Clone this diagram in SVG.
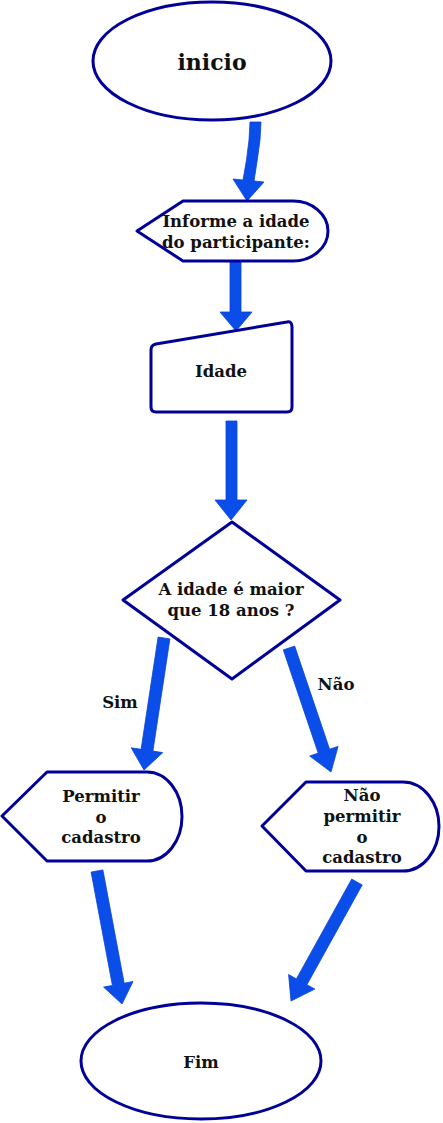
<svg xmlns="http://www.w3.org/2000/svg" width="443" height="1123" viewBox="0 0 443 1123">
<style>
.s{fill:#fff;stroke:#000099;stroke-width:3;stroke-linejoin:round}
.t{font-family:"DejaVu Serif","Liberation Serif",serif;font-weight:bold;font-size:16.5px;fill:#111;text-anchor:middle}
.a{fill:#0a4de8;stroke:#0845d8;stroke-width:0.8;stroke-linejoin:miter}
</style>
<rect width="443" height="1123" fill="#fff"/>
<g id="connectors">
<path class="a" d="M250,122 L261,122 L260,140 Q257,163 254,181 L264,182 L247,201 L233,179 L243,180 Q247,160 249,140 Z"/>
<polygon class="a" points="230,261 241,261 241,312 252,312 236,331 220,312 230,312"/>
<polygon class="a" points="226,421 237,421 237,500 247,500 231,520 215,500 226,500"/>
<polygon class="a" points="169.9,638.9 152.9,751.1 162.8,752.6 144,770 131.2,747.8 141.1,749.3 158.1,637.1"/>
<polygon class="a" points="294.7,646.1 329.6,749.2 338.1,746.4 331,772 309.7,756 318.2,753.1 283.3,649.9"/>
<polygon class="a" points="102.9,869.9 124.2,983.2 133,981.5 122,1004 103.6,987.1 112.4,985.4 91.1,872.1"/>
<polygon class="a" points="362.2,884.9 306.9,984.7 314.8,989.1 291,1001 288.6,974.5 296.4,978.9 351.7,879.1"/>
<text class="t" x="120" y="708">Sim</text>
<text class="t" x="336" y="690">Não</text>
</g>
<g id="inicio">
<ellipse class="s" cx="212" cy="61" rx="119" ry="59"/>
<text class="t" x="212" y="70" style="font-size:22px">inicio</text>
</g>
<g id="informe">
<path class="s" d="M137,231 L183,201 L293,201 A35,30 0 0 1 293,261 L183,261 Z"/>
<text class="t" x="236" y="227">Informe a idade</text>
<text class="t" x="236" y="248">do participante:</text>
</g>
<g id="idade">
<path class="s" d="M151,350 Q151,345 156,344 L287,322 Q292,321 292,327 L292,407 Q292,412 287,412 L156,412 Q151,412 151,407 Z"/>
<text class="t" x="221" y="377">Idade</text>
</g>
<g id="decisao">
<polygon class="s" points="232,522 340,600 232,679 123,600"/>
<text class="t" x="231" y="595">A idade é maior</text>
<text class="t" x="231" y="616">que 18 anos ?</text>
</g>
<g id="permitir">
<path class="s" d="M2,816 L47,772 L147,772 A35,44.5 0 0 1 147,861 L47,861 Z"/>
<text class="t" x="101" y="802">Permitir</text>
<text class="t" x="101" y="823">o</text>
<text class="t" x="101" y="843">cadastro</text>
</g>
<g id="nao-permitir">
<path class="s" d="M262,826 L306,782 L403,782 A36,44.5 0 0 1 403,871 L306,871 Z"/>
<text class="t" x="362" y="801">Não</text>
<text class="t" x="362" y="822">permitir</text>
<text class="t" x="362" y="843">o</text>
<text class="t" x="362" y="863">cadastro</text>
</g>
<g id="fim">
<ellipse class="s" cx="201" cy="1061" rx="120" ry="58"/>
<text class="t" x="201" y="1068">Fim</text>
</g>
</svg>
